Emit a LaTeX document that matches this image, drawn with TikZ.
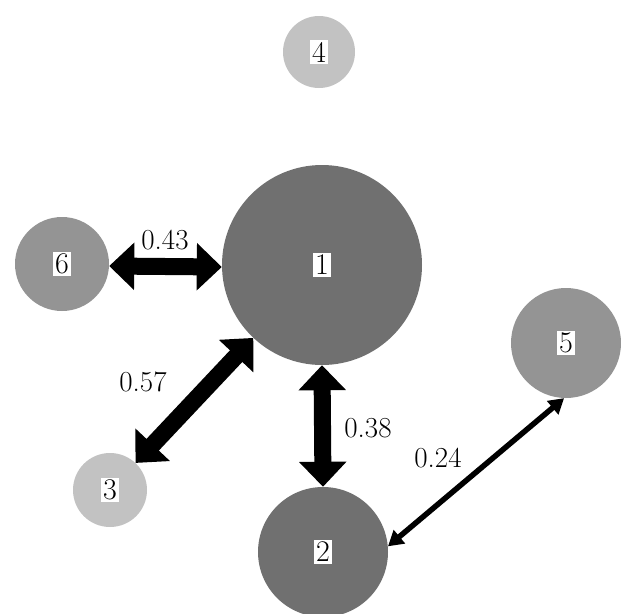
\documentclass[tikz,border=0pt]{standalone}
\usetikzlibrary{arrows.meta}
\definecolor{gdark}{gray}{0.44}
\definecolor{gmid}{gray}{0.58}
\definecolor{glight}{gray}{0.76}
\tikzset{
  nd/.style={circle, draw=none, minimum size=#1, inner sep=0pt},
  lbl/.style={fill=white, inner sep=2pt, font=\fontsize{30}{32}\selectfont},
  wlab/.style={font=\fontsize{29}{31}\selectfont, inner sep=1pt},
  bigarrow/.style={line width=17pt, {Triangle[width=46pt,length=25pt]}-{Triangle[width=46pt,length=25pt]}},
  thinarrow/.style={line width=5.5pt, {Triangle[width=17pt,length=15pt]}-{Triangle[width=17pt,length=15pt]}}
}
\begin{document}
\begin{tikzpicture}[x=1pt,y=-1pt]
\useasboundingbox[fill=white] (0,0) rectangle (621,613);
\node[nd=200pt, fill=gdark] (n1) at (322,265) {};
\node[nd=130pt, fill=gdark] (n2) at (323,552) {};
\node[nd=74pt, fill=glight] (n3) at (110,490) {};
\node[nd=72pt, fill=glight] (n4) at (319,52) {};
\node[nd=110pt, fill=gmid] (n5) at (566,343) {};
\node[nd=94pt, fill=gmid] (n6) at (62,264) {};
\node[lbl] at (n1) {1};
\node[lbl] at (n2) {2};
\node[lbl] at (n3) {3};
\node[lbl] at (n4) {4};
\node[lbl] at (n5) {5};
\node[lbl] at (n6) {6};
\draw[bigarrow] ([yshift=-2pt]n6.east) -- ([yshift=-2pt]n1.west);
\draw[bigarrow] (n1) -- (n3);
\draw[bigarrow] (n1.south) -- (n2.north);
\draw[thinarrow] (n5.-92) -- (n2.5);
\node[wlab] (l43) at (165,240) {0.43};
\node[wlab] (l57) at (143,382) {0.57};
\node[wlab] (l38) at (368,428) {0.38};
\node[wlab] (l24) at (438,458) {0.24};
\end{tikzpicture}
\end{document}
